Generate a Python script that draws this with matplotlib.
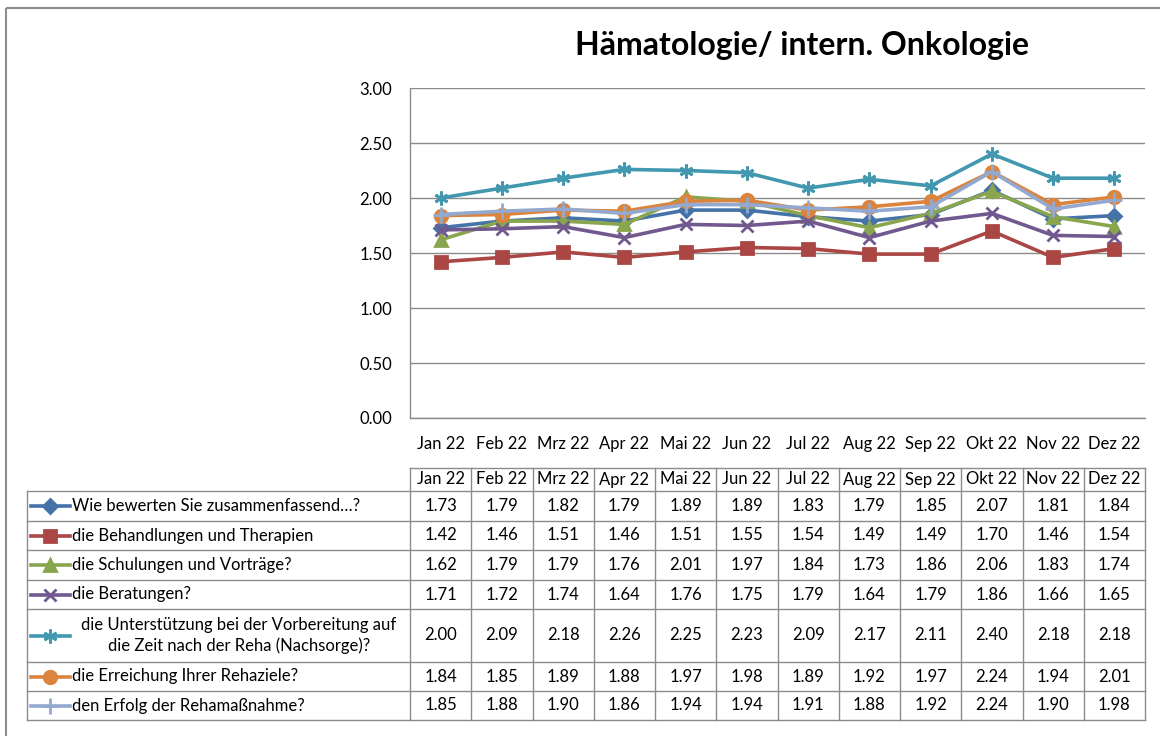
import matplotlib
matplotlib.use("Agg")
import matplotlib.pyplot as plt
from matplotlib.lines import Line2D
from matplotlib.patches import Rectangle

plt.rcParams['font.family'] = ['Lato', 'DejaVu Sans']

# Monthly mean ratings per question
months = ['Jan 22', 'Feb 22', 'Mrz 22', 'Apr 22', 'Mai 22', 'Jun 22',
          'Jul 22', 'Aug 22', 'Sep 22', 'Okt 22', 'Nov 22', 'Dez 22']

names = [
    'Wie bewerten Sie zusammenfassend…?',
    'die Behandlungen und Therapien',
    'die Schulungen und Vorträge?',
    'die Beratungen?',
    'die Unterstützung bei der Vorbereitung auf\ndie Zeit nach der Reha (Nachsorge)?',
    'die Erreichung Ihrer Rehaziele?',
    'den Erfolg der Rehamaßnahme?',
]

gesamt = [1.73, 1.79, 1.82, 1.79, 1.89, 1.89, 1.83, 1.79, 1.85, 2.07, 1.81, 1.84]
behandlungen = [1.42, 1.46, 1.51, 1.46, 1.51, 1.55, 1.54, 1.49, 1.49, 1.70, 1.46, 1.54]
schulungen = [1.62, 1.79, 1.79, 1.76, 2.01, 1.97, 1.84, 1.73, 1.86, 2.06, 1.83, 1.74]
beratungen = [1.71, 1.72, 1.74, 1.64, 1.76, 1.75, 1.79, 1.64, 1.79, 1.86, 1.66, 1.65]
nachsorge = [2.00, 2.09, 2.18, 2.26, 2.25, 2.23, 2.09, 2.17, 2.11, 2.40, 2.18, 2.18]
rehaziele = [1.84, 1.85, 1.89, 1.88, 1.97, 1.98, 1.89, 1.92, 1.97, 2.24, 1.94, 2.01]
erfolg = [1.85, 1.88, 1.90, 1.86, 1.94, 1.94, 1.91, 1.88, 1.92, 2.24, 1.90, 1.98]

series = [gesamt, behandlungen, schulungen, beratungen, nachsorge, rehaziele, erfolg]

colors = ['#4572A7', '#AA4643', '#89A54E', '#71588F', '#4198AF', '#DB843D', '#93A9CF']
markers = ['D', 's', '^', 'x', (6, 2, 0), 'o', '+']
msizes = [7, 9, 9, 9, 10, 9, 11]

FS = 12

W, H = 1160, 736
fig = plt.figure(figsize=(W / 100, H / 100), dpi=100)

# pixel layout of the plot area
px_left, px_right, px_top, px_bottom = 410, 1145, 88, 418
ax = fig.add_axes([px_left / W, 1 - px_bottom / H,
                   (px_right - px_left) / W, (px_bottom - px_top) / H])

x = list(range(len(months)))
for vals, c, m, ms in zip(series, colors, markers, msizes):
    ax.plot(x, vals, color=c, lw=2.6, marker=m, ms=ms, mec=c, mfc=c, mew=2,
            solid_joinstyle='round')

ax.set_xlim(-0.5, len(months) - 0.5)
ax.set_ylim(0, 3)
ax.set_yticks([i * 0.5 for i in range(7)])
ax.set_yticklabels([f'{i * 0.5:.2f}' for i in range(7)], fontsize=FS)
ax.set_xticks(x)
ax.set_xticklabels(months, fontsize=FS)
ax.tick_params(axis='y', length=0, pad=13)
ax.tick_params(axis='x', length=0, pad=13)
ax.grid(axis='y', color='#8c8c8c', lw=1)
ax.set_axisbelow(True)
for side in ['top', 'right']:
    ax.spines[side].set_visible(False)
for side in ['left', 'bottom']:
    ax.spines[side].set_color('#8c8c8c')
    ax.spines[side].set_linewidth(1)

fig.text(802 / W, 1 - 45 / H, 'Hämatologie/ intern. Onkologie',
         ha='center', va='center', fontsize=23, fontweight='bold')

# data table below the chart, drawn in pixel coordinates
tab = fig.add_axes([0, 0, 1, 1])
tab.set_xlim(0, W)
tab.set_ylim(H, 0)
tab.axis('off')

grid_c = '#8c8c8c'
col_w = (px_right - px_left) / len(months)
col_edges = [px_left + i * col_w for i in range(len(months) + 1)]
header_top, header_bot = 468, 491
row_h = [30, 29, 30, 29, 53, 29, 29]
row_edges = [header_bot]
for h in row_h:
    row_edges.append(row_edges[-1] + h)
leg_left = 27

# outer chart frame
tab.add_patch(Rectangle((5.5, 7.5), W + 10, H + 10, fill=False,
                        ec='#8c8c8c', lw=1.5))

# header row
tab.plot([px_left, px_right], [header_top, header_top], color=grid_c, lw=1)
for xe in col_edges:
    tab.plot([xe, xe], [header_top, row_edges[-1]], color=grid_c, lw=1)
for i, m in enumerate(months):
    tab.text((col_edges[i] + col_edges[i + 1]) / 2, (header_top + header_bot) / 2,
             m, ha='center', va='center', fontsize=FS)

# body rows
for ye in row_edges:
    tab.plot([leg_left, px_right], [ye, ye], color=grid_c, lw=1)
tab.plot([leg_left, leg_left], [row_edges[0], row_edges[-1]], color=grid_c, lw=1)

for r, (name, vals, c, m, ms) in enumerate(zip(names, series, colors, markers, msizes)):
    yc = (row_edges[r] + row_edges[r + 1]) / 2
    tab.add_line(Line2D([31, 70], [yc, yc], color=c, lw=2.6))
    tab.add_line(Line2D([50], [yc], marker=m, ms=ms, color=c, mec=c, mfc=c, mew=2))
    if '\n' in name:
        tab.text(239, yc, name, ha='center', va='center', fontsize=FS,
                 multialignment='center', linespacing=1.3)
    else:
        tab.text(72, yc, name, ha='left', va='center', fontsize=FS)
    for i, v in enumerate(vals):
        tab.text((col_edges[i] + col_edges[i + 1]) / 2, yc, f'{v:.2f}',
                 ha='center', va='center', fontsize=FS)

fig.savefig('out.png', dpi=100, facecolor='white')
